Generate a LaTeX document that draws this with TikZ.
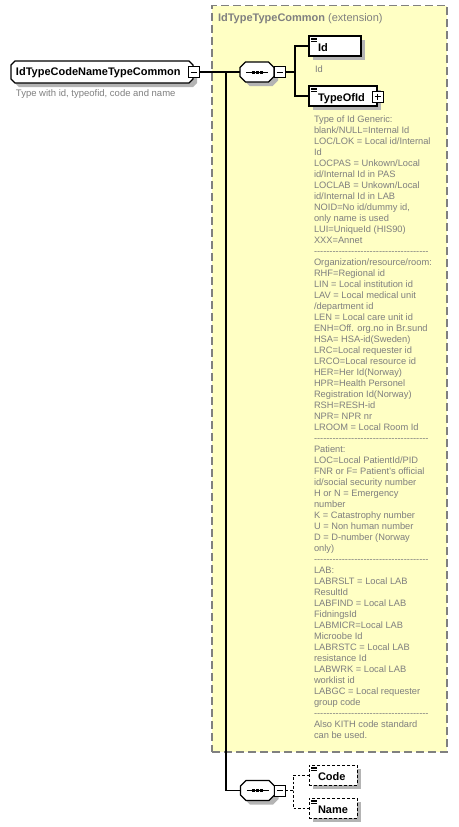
\documentclass[tikz,border=0pt]{standalone}
\usepackage{fontspec}
\setmainfont{Liberation Sans}
\usetikzlibrary{shadows}
\definecolor{yel}{HTML}{FFFFC4}
\definecolor{bordergray}{HTML}{808080}
\definecolor{descgray}{HTML}{7F7F7F}
\definecolor{shadowgray}{HTML}{B4B4B4}
\newcommand{\sepdashes}{-{}-{}-{}-{}-{}-{}-{}-{}-{}-{}-{}-{}-{}-{}-{}-{}-{}-{}-{}-{}-{}-{}-{}-{}-{}-{}-{}-{}-{}-{}-{}-{}-{}-{}-{}-{}-{}}
% octagon path around a node #1 with chamfer #2
\newcommand{\octpath}[2]{([xshift=#2]#1.north west) -- ([xshift=-#2]#1.north east) -- ([yshift=-#2]#1.north east) -- ([yshift=#2]#1.south east) -- ([xshift=-#2]#1.south east) -- ([xshift=#2]#1.south west) -- ([yshift=#2]#1.south west) -- ([yshift=-#2]#1.north west) -- cycle}
\begin{document}
\begin{tikzpicture}[x=1pt,y=-1pt,
  every node/.style={inner sep=0pt, outer sep=0pt},
  shd/.style={drop shadow={shadow xshift=4pt, shadow yshift=-4pt, fill=shadowgray, opacity=1}},
  elembox/.style={draw=black, fill=white, line width=1.1pt, minimum height=20pt, shd},
  optbox/.style={elembox, line width=1pt, dash pattern=on 3pt off 2pt},
  octshape/.style={minimum height=#1},
  pmbox/.style={draw=black, fill=white, line width=1pt, minimum size=11pt},
  ename/.style={font=\bfseries\fontsize{11}{13}\selectfont, anchor=base west},
  desc/.style={font=\fontsize{9.3}{11}\selectfont, text=descgray, anchor=base west},
  conn/.style={line width=1.1pt},
  optconn/.style={line width=1pt, dash pattern=on 2.5pt off 2pt},
  octline/.style={draw=black, fill=white, line width=1.1pt},
  icon/.style={line width=0.7pt}
]
\useasboundingbox (0,0) rectangle (458,827);

% extension area
\node[draw=bordergray, fill=yel, line width=1.4pt, dash pattern=on 8pt off 4pt,
      minimum width=235pt, minimum height=746.5pt] (ext) at (329.5,378.75) {};
\node[anchor=base west, font=\fontsize{11}{13}\selectfont, text=bordergray] (exttitle) at (218,21.5)
  {\textbf{IdTypeTypeCommon} (extension)};

% shape anchors (invisible nodes)
\node[minimum width=182pt, minimum height=22pt] (main) at (102,72) {};
\node[minimum width=34pt, minimum height=20pt] (s1) at (257,72) {};
\node[minimum width=34pt, minimum height=20pt] (s2) at (257.5,790.5) {};

% shadows of octagonal shapes
\begin{scope}[transform canvas={shift={(4pt,-4pt)}}]
  \fill[shadowgray] \octpath{main}{4pt};
  \fill[shadowgray] \octpath{s1}{5.5pt};
  \fill[shadowgray] \octpath{s2}{5.5pt};
\end{scope}

% main complex type
\path[octline] \octpath{main}{4pt};
\node[ename] (maintext) at (16,75.5) {IdTypeCodeNameTypeCommon};
\node[pmbox] (mm) at (193.5,72) {};
\draw[line width=0.9pt] ([xshift=2.5pt]mm.west) -- ([xshift=-2.5pt]mm.east);
\node[desc, font=\fontsize{9.5}{11}\selectfont] (maindesc) at (16,96.5) {Type with id, typeofid, code and name};

% sequence 1
\path[octline] \octpath{s1}{5.5pt};
\draw[line width=1pt] ([xshift=6pt]s1.west) -- ([xshift=-6pt]s1.east);
\foreach \dx [count=\k] in {-4,0,4}
  \node[fill=black, minimum size=3pt] (s1dot\k) at ([xshift=\dx pt]s1.center) {};
\node[pmbox] (s1m) at (279.5,72) {};
\draw[line width=0.9pt] ([xshift=2.5pt]s1m.west) -- ([xshift=-2.5pt]s1m.east);

% sequence 2
\path[octline] \octpath{s2}{5.5pt};
\draw[line width=1pt] ([xshift=6pt]s2.west) -- ([xshift=-6pt]s2.east);
\foreach \dx [count=\k] in {-4,0,4}
  \node[fill=black, minimum size=3pt] (s2dot\k) at ([xshift=\dx pt]s2.center) {};
\node[pmbox] (s2m) at (280,790.5) {};
\draw[line width=0.9pt] ([xshift=2.5pt]s2m.west) -- ([xshift=-2.5pt]s2m.east);

% elements
\node[elembox, minimum width=52pt] (Id) at (335,46) {};
\node[ename] (Idtext) at (318,51) {Id};
\node[desc] (Iddesc) at (315,72) {Id};

\node[elembox, minimum width=68pt] (TypeOfId) at (343,96) {};
\node[ename] (TypeOfIdtext) at (318,101) {TypeOfId};
\node[pmbox] (tp) at (377.5,96.5) {};
\draw[line width=0.9pt] ([xshift=2.5pt]tp.west) -- ([xshift=-2.5pt]tp.east);
\draw[line width=0.9pt] ([yshift=-2.5pt]tp.north) -- ([yshift=2.5pt]tp.south);

\node[optbox, minimum width=48pt] (Code) at (333,775) {};
\node[ename] (Codetext) at (318,780) {Code};
\node[optbox, minimum width=48pt] (Name) at (333,808) {};
\node[ename] (Nametext) at (318,813) {Name};

% icons
\foreach \b in {Id,TypeOfId,Code,Name} {
  \draw[icon] ([xshift=2pt,yshift=-2pt]\b.north west) -- ++(6,0);
  \draw[icon] ([xshift=2pt,yshift=-3.8pt]\b.north west) -- ++(6,0);
  \draw[icon] ([xshift=2pt,yshift=-5.6pt]\b.north west) -- ++(6,0);
}

% connectors
\coordinate (v) at (226,72);
\coordinate (j1) at (295,72);
\coordinate (j2) at (293,790.5);
\draw[conn] (mm.east) -- (s1.west);
\draw[conn] (v) |- (s2.west);
\draw[conn] (s1m.east) -- (j1);
\draw[conn] (Id.west) -| (j1) |- (TypeOfId.west);
\draw[optconn] (s2m.east) -- (j2);
\draw[optconn] (Code.west) -| (j2) |- (Name.west);

% TypeOfId documentation
\foreach \t [count=\i] in {
Type of Id Generic:,
blank/NULL=Internal Id,
LOC/LOK = Local id/Internal,
Id,
LOCPAS = Unkown/Local,
id/Internal Id in PAS,
LOCLAB = Unkown/Local,
id/Internal Id in LAB,
{NOID=No id/dummy id,},
only name is used,
LUI=UniqueId (HIS90),
XXX=Annet,
\sepdashes,
Organization/resource/room:,
RHF=Regional id,
LIN = Local institution id,
LAV = Local medical unit,
/department id,
LEN = Local care unit id,
ENH=Off. org.no in Br.sund,
HSA= HSA-id(Sweden),
LRC=Local requester id,
LRCO=Local resource id,
HER=Her Id(Norway),
HPR=Health Personel,
Registration Id(Norway),
RSH=RESH-id,
NPR= NPR nr,
LROOM = Local Room Id,
\sepdashes,
Patient:,
LOC=Local PatientId/PID,
FNR or F= Patient's official,
id/social security number,
H or N = Emergency,
number,
K = Catastrophy number,
U = Non human number,
D = D-number (Norway,
only),
\sepdashes,
LAB:,
LABRSLT = Local LAB,
ResultId,
LABFIND = Local LAB,
FidningsId,
LABMICR=Local LAB,
Microobe Id,
LABRSTC = Local LAB,
resistance Id,
LABWRK = Local LAB,
worklist id,
LABGC = Local requester,
group code,
\sepdashes,
Also KITH code standard,
can be used.}
  \node[desc] (doc\i) at (314,{122.5+11*(\i-1)}) {\t};
\end{tikzpicture}
\end{document}
